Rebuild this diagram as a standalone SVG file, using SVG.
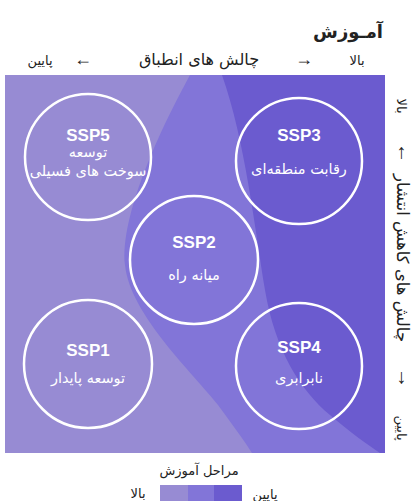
<svg xmlns="http://www.w3.org/2000/svg" width="420" height="501" viewBox="0 0 420 501">
<style>
.fa{font-family:"DejaVu Sans","Noto Sans",sans-serif;fill:#222;}
.arr{font-family:"Liberation Serif","Times New Roman",serif;fill:#222;text-anchor:middle;}
.wfa{font-family:"DejaVu Sans","Noto Sans",sans-serif;fill:#fff;font-size:14.5px;text-anchor:middle;}
.ssp{font-family:"Liberation Sans",Arial,sans-serif;font-weight:bold;fill:#fff;font-size:17px;text-anchor:middle;}
.ring{fill:none;stroke:#fff;stroke-width:2.5;}
.m{text-anchor:middle;}
</style>
<rect width="420" height="501" fill="#fff"/>
<g id="title">
<text class="fa" x="383" y="38" font-size="18" font-weight="bold" text-anchor="end">آمـوزش</text>
</g>
<g id="axis-top">
<text class="fa m" x="357" y="65" font-size="13">بالا</text>
<text class="arr" x="304" y="65" font-size="18">→</text>
<text class="fa m" x="199" y="65" font-size="16">چالش های انطباق</text>
<text class="arr" x="83" y="65" font-size="18">←</text>
<text class="fa m" x="40" y="65" font-size="13">پایین</text>
</g>
<g id="background">
<rect x="5" y="75" width="380" height="378" fill="#978bd3"/>
<path d="M190,75 C160,130 120,215 125,265 C130,315 195,375 218,405 C235,428 245,442 252,453 L385,453 L385,75 Z" fill="#8275d8"/>
<path d="M222,75 C245,140 255,230 265,290 C275,350 300,390 330,415 C350,432 368,445 380,453 L385,453 L385,75 Z" fill="#6b5bcf"/>
</g>
<g id="axis-right">
<text class="fa m" transform="translate(397,106) rotate(90)" font-size="13">بالا</text>
<text class="arr" transform="translate(398,153) rotate(90)" font-size="20">←</text>
<text class="fa m" transform="translate(397,258) rotate(90)" font-size="16.5">چالش های کاهش انتشار</text>
<text class="arr" transform="translate(398,378) rotate(90)" font-size="20">→</text>
<text class="fa m" transform="translate(397,428) rotate(90)" font-size="13">پایین</text>
</g>
<g id="ssp5">
<circle class="ring" cx="88" cy="157" r="63"/>
<text class="ssp" x="88" y="141">SSP5</text>
<text class="wfa" x="88" y="157">توسعه</text>
<text class="wfa" x="88" y="176">سوخت های فسیلی</text>
</g>
<g id="ssp3">
<circle class="ring" cx="299" cy="161" r="63"/>
<text class="ssp" x="299" y="141">SSP3</text>
<text class="wfa" x="299" y="174">رقابت منطقه‌ای</text>
</g>
<g id="ssp2">
<circle class="ring" cx="194" cy="260" r="64"/>
<text class="ssp" x="194" y="248">SSP2</text>
<text class="wfa" x="194" y="280">میانه راه</text>
</g>
<g id="ssp1">
<circle class="ring" cx="88" cy="364" r="64"/>
<text class="ssp" x="88" y="356">SSP1</text>
<text class="wfa" x="88" y="383">توسعه پایدار</text>
</g>
<g id="ssp4">
<circle class="ring" cx="299" cy="366" r="63"/>
<text class="ssp" x="299" y="353">SSP4</text>
<text class="wfa" x="299" y="383">نابرابری</text>
</g>
<g id="legend">
<text class="fa m" x="199" y="475" font-size="13">مراحل آموزش</text>
<rect x="160" y="485" width="28" height="16" fill="#978bd3"/>
<rect x="188" y="485" width="26" height="16" fill="#8275d8"/>
<rect x="214" y="485" width="28" height="16" fill="#6b5bcf"/>
<text class="fa m" x="265" y="499" font-size="13">پایین</text>
<text class="fa m" x="138" y="498" font-size="13">بالا</text>
</g>
</svg>
